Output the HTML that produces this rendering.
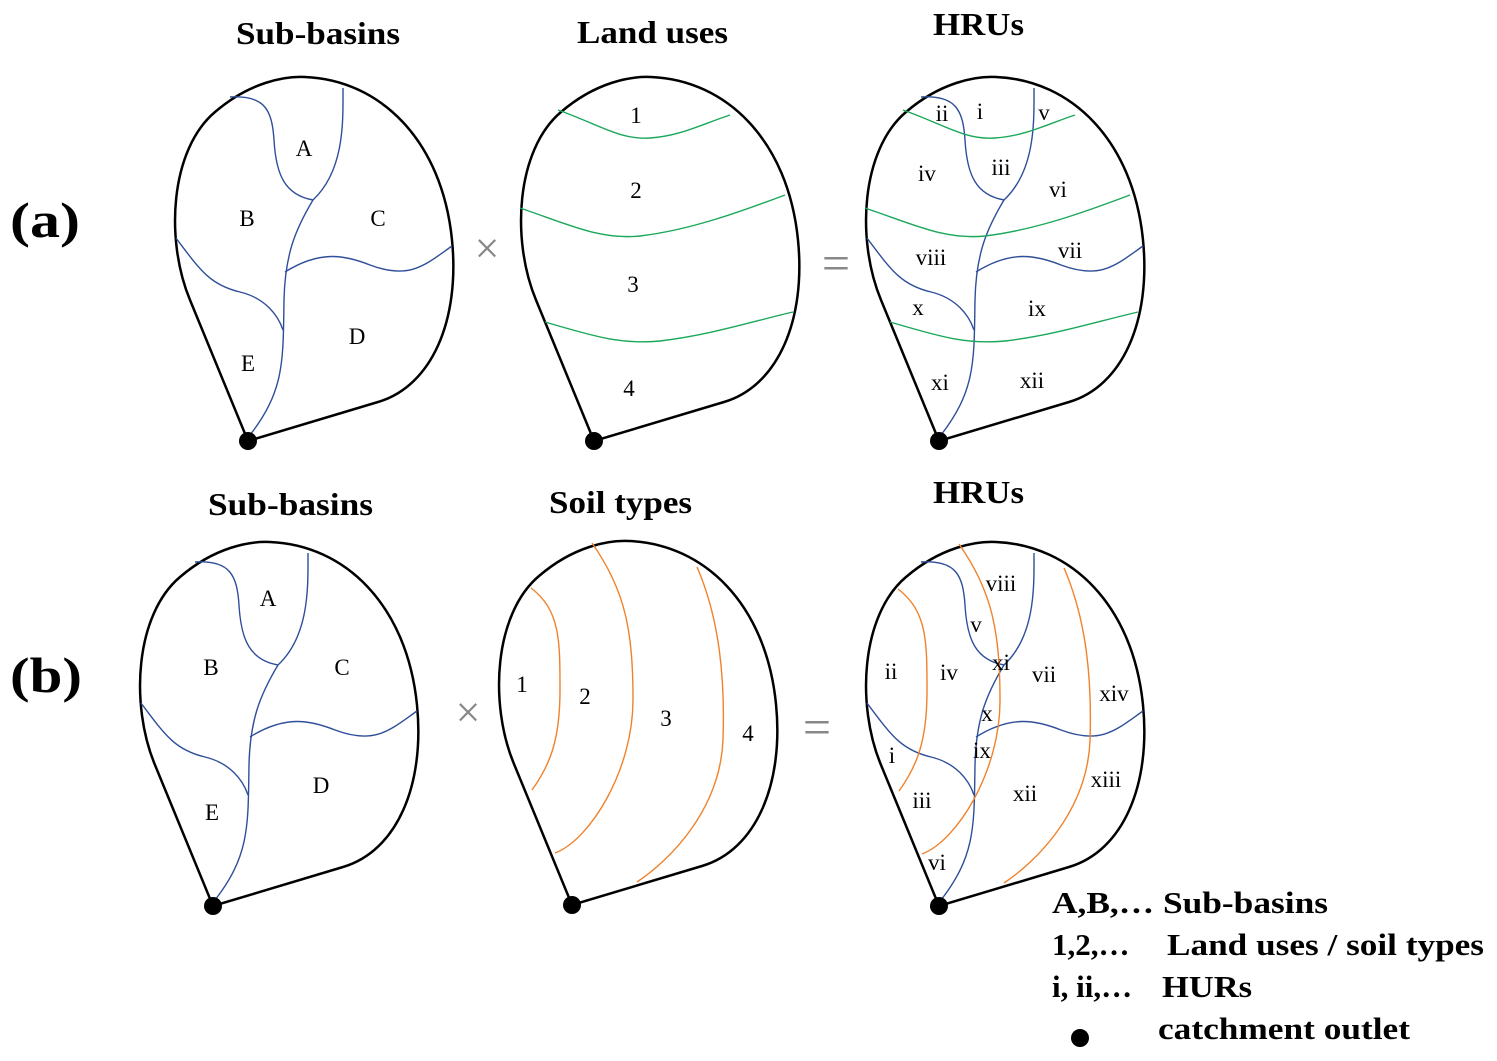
<!DOCTYPE html>
<html><head><meta charset="utf-8"><style>
html,body{margin:0;padding:0;background:#fff}
svg{display:block}
text{font-family:"Liberation Serif",serif;fill:#000}
.t{font-weight:bold;font-size:32px}
.l{font-size:23px}
.big{font-weight:bold;font-size:50px}
.lg{font-weight:bold;font-size:31px}
</style></head><body>
<svg width="1497" height="1061" viewBox="0 0 1497 1061">
<defs>
<path id="out" d="M248,441 L190,300 C165,240 170,150 215,112 C250,82 285,76 305,77 C380,80 442,140 452,240 C460,320 432,386 378,402 L248,441 Z" fill="none" stroke="#000" stroke-width="2.5"/>
<g id="blue" fill="none" stroke="#2f4f9a" stroke-width="1.4">
<path d="M230,97 C265,95 272,110 274,140 C276,175 285,195 313,200"/>
<path d="M343,88 C343,120 345,170 313,200 C295,230 285,255 284,300 C283,360 285,390 250,435"/>
<path d="M176,238 C200,270 210,285 240,292 C265,298 278,315 283,330"/>
<path d="M285,272 C320,250 345,255 370,265 C410,280 425,265 452,246"/>
</g>
<g id="green" fill="none" stroke="#1aa85a" stroke-width="1.4">
<path d="M558,110 C600,125 620,140 650,138 C680,136 700,125 730,115"/>
<path d="M520,208 C570,225 600,240 640,236 C690,230 740,212 785,195"/>
<path d="M545,322 C590,335 620,345 660,341 C710,335 750,322 793,312"/>
</g>
<g id="orange" fill="none" stroke="#f0822c" stroke-width="1.4">
<path d="M531,588 C560,610 560,640 560,690 C560,740 550,765 532,790"/>
<path d="M592,543 C625,590 633,630 633,700 C633,770 590,840 555,853"/>
<path d="M697,567 C720,620 725,680 723,740 C720,810 670,860 637,882"/>
</g>
</defs>

<text class="t" x="236" y="44" textLength="164" lengthAdjust="spacingAndGlyphs">Sub-basins</text>
<text class="t" x="577" y="43" textLength="151" lengthAdjust="spacingAndGlyphs">Land uses</text>
<text class="t" x="933" y="35" textLength="91" lengthAdjust="spacingAndGlyphs">HRUs</text>
<text class="t" x="208" y="515" textLength="165" lengthAdjust="spacingAndGlyphs">Sub-basins</text>
<text class="t" x="549" y="513" textLength="143" lengthAdjust="spacingAndGlyphs">Soil types</text>
<text class="t" x="933" y="503" textLength="91" lengthAdjust="spacingAndGlyphs">HRUs</text>
<text class="big" x="10" y="237" textLength="70" lengthAdjust="spacingAndGlyphs">(a)</text>
<text class="big" x="10" y="692" textLength="72" lengthAdjust="spacingAndGlyphs">(b)</text>

<!-- a1 -->
<use href="#out"/><use href="#blue"/>
<circle cx="248" cy="441" r="9"/>
<text class="l" x="304" y="156" text-anchor="middle">A</text>
<text class="l" x="247" y="226" text-anchor="middle">B</text>
<text class="l" x="378" y="226" text-anchor="middle">C</text>
<text class="l" x="357" y="344" text-anchor="middle">D</text>
<text class="l" x="248" y="371" text-anchor="middle">E</text>
<text x="487" y="263" font-size="44" style="fill:#888" text-anchor="middle">×</text>

<!-- a2 -->
<g transform="translate(346,0)"><use href="#out"/></g><use href="#green"/>
<circle cx="594" cy="441" r="9"/>
<text class="l" x="636" y="123" text-anchor="middle">1</text>
<text class="l" x="636" y="198" text-anchor="middle">2</text>
<text class="l" x="633" y="292" text-anchor="middle">3</text>
<text class="l" x="629" y="396" text-anchor="middle">4</text>
<text x="836" y="280" font-size="50" style="fill:#888" text-anchor="middle">=</text>

<!-- a3 -->
<g transform="translate(691,0)"><use href="#out"/><use href="#blue"/></g>
<g transform="translate(345,0)"><use href="#green"/></g>
<circle cx="939" cy="441" r="9"/>
<text class="l" x="942" y="121" text-anchor="middle">ii</text>
<text class="l" x="980" y="119" text-anchor="middle">i</text>
<text class="l" x="1044" y="120" text-anchor="middle">v</text>
<text class="l" x="927" y="181" text-anchor="middle">iv</text>
<text class="l" x="1001" y="175" text-anchor="middle">iii</text>
<text class="l" x="1058" y="197" text-anchor="middle">vi</text>
<text class="l" x="931" y="265" text-anchor="middle">viii</text>
<text class="l" x="1070" y="258" text-anchor="middle">vii</text>
<text class="l" x="918" y="315" text-anchor="middle">x</text>
<text class="l" x="1037" y="316" text-anchor="middle">ix</text>
<text class="l" x="940" y="390" text-anchor="middle">xi</text>
<text class="l" x="1032" y="388" text-anchor="middle">xii</text>

<!-- b1 -->
<g transform="translate(-35,465)"><use href="#out"/><use href="#blue"/></g>
<circle cx="213" cy="906" r="9"/>
<text class="l" x="268" y="606" text-anchor="middle">A</text>
<text class="l" x="211" y="675" text-anchor="middle">B</text>
<text class="l" x="342" y="675" text-anchor="middle">C</text>
<text class="l" x="321" y="793" text-anchor="middle">D</text>
<text class="l" x="212" y="820" text-anchor="middle">E</text>
<text x="468" y="727" font-size="44" style="fill:#888" text-anchor="middle">×</text>

<!-- b2 -->
<g transform="translate(324,464)"><use href="#out"/></g><use href="#orange"/>
<circle cx="572" cy="905" r="9"/>
<text class="l" x="522" y="692" text-anchor="middle">1</text>
<text class="l" x="585" y="704" text-anchor="middle">2</text>
<text class="l" x="666" y="726" text-anchor="middle">3</text>
<text class="l" x="748" y="741" text-anchor="middle">4</text>
<text x="817" y="744" font-size="50" style="fill:#888" text-anchor="middle">=</text>

<!-- b3 -->
<g transform="translate(691,465)"><use href="#out"/><use href="#blue"/></g>
<g transform="translate(367,1)"><use href="#orange"/></g>
<circle cx="939" cy="906" r="9"/>
<text class="l" x="1001" y="591" text-anchor="middle">viii</text>
<text class="l" x="976" y="632" text-anchor="middle">v</text>
<text class="l" x="1001" y="670" text-anchor="middle">xi</text>
<text class="l" x="891" y="679" text-anchor="middle">ii</text>
<text class="l" x="949" y="680" text-anchor="middle">iv</text>
<text class="l" x="1044" y="682" text-anchor="middle">vii</text>
<text class="l" x="1114" y="701" text-anchor="middle">xiv</text>
<text class="l" x="987" y="721" text-anchor="middle">x</text>
<text class="l" x="982" y="758" text-anchor="middle">ix</text>
<text class="l" x="892" y="763" text-anchor="middle">i</text>
<text class="l" x="1106" y="787" text-anchor="middle">xiii</text>
<text class="l" x="1025" y="801" text-anchor="middle">xii</text>
<text class="l" x="922" y="808" text-anchor="middle">iii</text>
<text class="l" x="937" y="870" text-anchor="middle">vi</text>

<!-- legend -->
<text class="lg" x="1052" y="913" textLength="276" lengthAdjust="spacingAndGlyphs">A,B,… Sub-basins</text>
<text class="lg" x="1052" y="955">1,2,…</text>
<text class="lg" x="1167" y="955" textLength="317" lengthAdjust="spacingAndGlyphs">Land uses / soil types</text>
<text class="lg" x="1052" y="997">i, ii,…</text>
<text class="lg" x="1162" y="997" textLength="90" lengthAdjust="spacingAndGlyphs">HURs</text>
<circle cx="1080" cy="1038" r="9"/>
<text class="lg" x="1158" y="1039" textLength="252" lengthAdjust="spacingAndGlyphs">catchment outlet</text>
</svg>
</body></html>
